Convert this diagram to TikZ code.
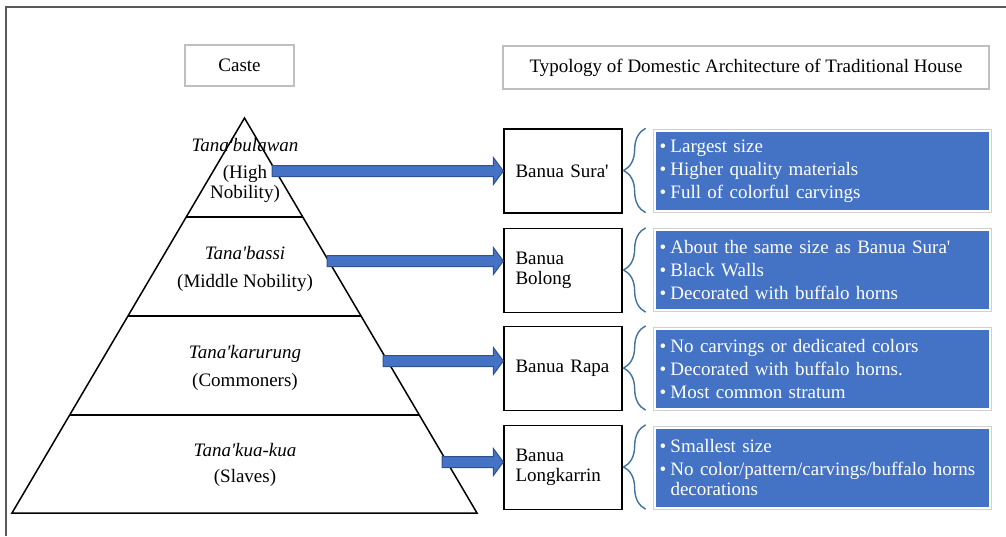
\documentclass[tikz,border=0pt]{standalone}
\usepackage{fontspec}
\setmainfont{Liberation Serif}
\usetikzlibrary{calc,decorations.pathreplacing}
\definecolor{boxblue}{HTML}{4472C4}
\definecolor{arrline}{HTML}{2F528F}
\definecolor{brcol}{HTML}{41719C}
\newcommand\blockarr[2]{\path[arrowshape] let \p1=(#1), \p2=(#2.west) in
  (\x1,\y1+5.5pt) -- (\x2-10pt,\y1+5.5pt) -- (\x2-10pt,\y1+13.5pt) -- (\x2,\y1)
  -- (\x2-10pt,\y1-13.5pt) -- (\x2-10pt,\y1-5.5pt) -- (\x1,\y1-5.5pt) -- cycle;}
\newcommand\bul{\makebox[11pt][l]{•}}
\newcommand\ap{\textquotesingle}
\begin{document}
\begin{tikzpicture}[x=1pt,y=-1pt,
  every node/.style={font=\fontsize{19}{23}\selectfont, inner sep=0pt},
  frameline/.style={draw=black!65, line width=1.2pt},
  pyr/.style={draw=black, line width=1.5pt, line join=miter},
  header/.style={draw=black!25, line width=1.6pt, fill=white},
  banua/.style={draw=black, line width=1.3pt, minimum width=118pt, minimum height=84pt,
     align=left, text width=95pt, font=\fontsize{19}{20}\selectfont},
  lst/.style={preaction={draw=black!18, line width=4pt}, fill=boxblue, draw=white, line width=2pt,
     minimum width=335pt, minimum height=80pt, text=white, align=left, text width=326pt,
     font=\fontsize{19}{23}\selectfont},
  arrowshape/.style={fill=boxblue, draw=arrline, line width=1pt, line join=miter},
  brc/.style={draw=brcol, line width=1.4pt, decorate, decoration={brace, amplitude=22pt}},
  pyrlabel/.style={anchor=base, font=\fontsize{19}{20}\selectfont, align=center},
]
\useasboundingbox (0,0) rectangle (1006,536);
% frame
\draw[frameline] (6,536) -- (6,7) -- (1006,7);
% headers
\node[header, minimum width=109pt, minimum height=41pt] (caste) at (239.5,65.5) {Caste};
\node[header, minimum width=486pt, minimum height=43pt] (typo) at (746,67.5) {Typology of Domestic Architecture of Traditional House};
% pyramid
\draw[pyr] (244.5,118) -- (477,513) -- (12,513) -- cycle;
\draw[pyr] (186.2,217) -- (302.8,217);
\draw[pyr] (128.0,316) -- (361.0,316);
\draw[pyr] (69.7,415) -- (419.3,415);
% pyramid labels
\node[pyrlabel] (c1a) at (245,151) {\itshape Tana\ap bulawan};
\node[pyrlabel] (c1b) at (245,178) {(High};
\node[pyrlabel] (c1c) at (245,198) {Nobility)};
\node[pyrlabel] (c2a) at (245,259) {\itshape Tana\ap bassi};
\node[pyrlabel] (c2b) at (245,287) {(Middle Nobility)};
\node[pyrlabel] (c3a) at (245,358) {\itshape Tana\ap karurung};
\node[pyrlabel] (c3b) at (245,386) {(Commoners)};
\node[pyrlabel] (c4a) at (245,456) {\itshape Tana\ap kua-kua};
\node[pyrlabel] (c4b) at (245,482) {(Slaves)};
% house types
\node[banua] (b1) at (563,171) {\mbox{Banua Sura\ap}};
\node[banua] (b2) at (563,270.5) {Banua\\Bolong};
\node[banua] (b3) at (563,368.5) {\mbox{Banua Rapa}};
\node[banua] (b4) at (563,467.5) {Banua\\Longkarrin};
% lists
\node[lst] (l1) at (822.5,171) {\bul Largest size\\\bul Higher quality materials\\\bul Full of colorful carvings};
\node[lst] (l2) at (822.5,269.5) {\bul About the same size as Banua Sura\ap\\\bul Black Walls\\\bul Decorated with buffalo horns};
\node[lst] (l3) at (822.5,368.5) {\bul No carvings or dedicated colors\\\bul Decorated with buffalo horns.\\\bul Most common stratum};
\node[lst] (l4) at (822.5,467.5) {\bul Smallest size\\\bul No color/pattern/carvings/buffalo horns\\[-3pt]\hspace*{11pt}decorations};
% braces
\foreach \i in {1,2,3,4} {
  \draw[brc] ([xshift=23pt,yshift=1pt]b\i.south east) -- ([xshift=23pt]b\i.north east);
}
% arrows
\coordinate (a1) at (272,171);
\coordinate (a2) at (327,261);
\coordinate (a3) at (383,361);
\coordinate (a4) at (442,462);
\blockarr{a1}{b1}
\blockarr{a2}{b2}
\blockarr{a3}{b3}
\blockarr{a4}{b4}
\end{tikzpicture}
\end{document}
